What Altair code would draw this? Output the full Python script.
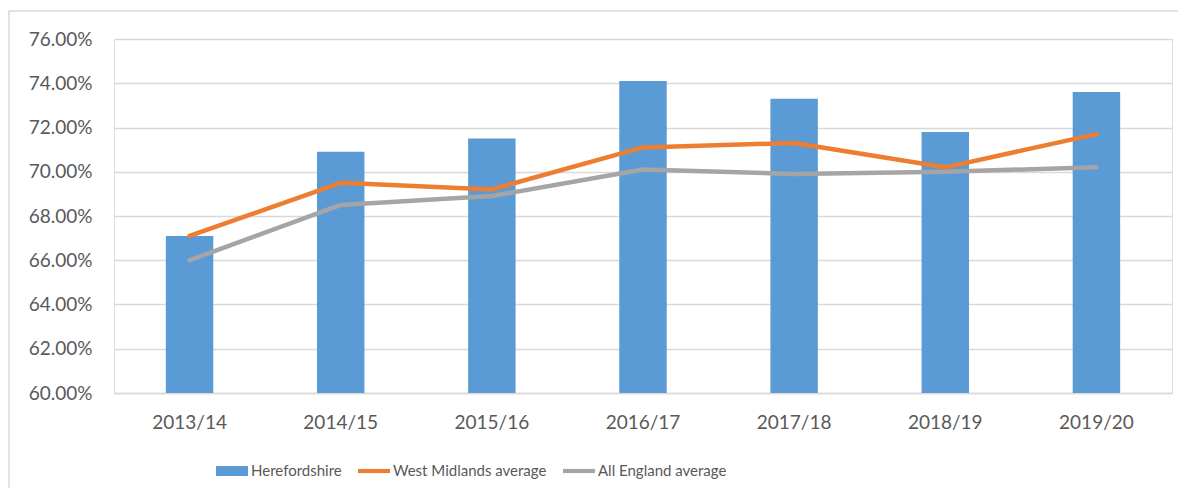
import altair as alt
import pandas as pd

years = ["2013/14", "2014/15", "2015/16", "2016/17", "2017/18", "2018/19", "2019/20"]
herefordshire = [0.671, 0.709, 0.715, 0.741, 0.733, 0.718, 0.736]
west_midlands = [0.671, 0.695, 0.692, 0.711, 0.713, 0.702, 0.717]
all_england = [0.660, 0.685, 0.689, 0.701, 0.699, 0.700, 0.702]
series_names = ["Herefordshire", "West Midlands average", "All England average"]
series_colors = ["#5B9BD5", "#ED7D31", "#A5A5A5"]
y_ticks = [0.60, 0.62, 0.64, 0.66, 0.68, 0.70, 0.72, 0.74, 0.76]

FONT = "Lato"
TXT = "#595959"

df = pd.DataFrame({
    "year": years,
    "Herefordshire": herefordshire,
    "West Midlands average": west_midlands,
    "All England average": all_england,
})
long = df.melt(id_vars="year", var_name="series", value_name="value")

x_enc = alt.X(
    "year:N", sort=years, title=None,
    scale=alt.Scale(paddingInner=0.686, paddingOuter=0.343),
    axis=alt.Axis(labelAngle=0, ticks=False, tickSize=0, labelPadding=20,
                  domainColor="#D9D9D9", domainWidth=1.5, grid=False,
                  labelFont=FONT, labelFontSize=19, labelColor=TXT),
)
y_scale = alt.Scale(domain=[0.60, 0.76], nice=False, zero=False)
y_axis = alt.Axis(values=y_ticks, format=".2%", title=None, domain=False, ticks=False,
                  tickSize=0, labelPadding=22, gridColor="#D9D9D9", gridWidth=1.5,
                  labelFont=FONT, labelFontSize=19, labelColor=TXT)

base = alt.Chart(df)

bars = base.mark_bar(color=series_colors[0], clip=True).encode(
    x=x_enc,
    y=alt.Y("Herefordshire:Q", scale=y_scale, axis=y_axis),
    y2=alt.datum(0.60),
)

wm = base.mark_line(color=series_colors[1], strokeWidth=4.5, strokeCap="round",
                    strokeJoin="round").encode(
    x=alt.X("year:N", sort=years),
    y=alt.Y("West Midlands average:Q"),
)
ae = base.mark_line(color=series_colors[2], strokeWidth=4.5, strokeCap="round",
                    strokeJoin="round").encode(
    x=alt.X("year:N", sort=years),
    y=alt.Y("All England average:Q"),
)

rect_path = "M-1,-0.3125H1V0.3125H-1Z"
line_path = "M-1,-0.13H1V0.13H-1Z"

legend_props = dict(
    title=None, orient="none", direction="horizontal",
    legendX=102, legendY=416, symbolSize=1024, symbolOpacity=1,
    symbolStrokeWidth=0, labelFont=FONT, labelFontSize=15,
    labelColor=TXT, labelOffset=3, columnPadding=16, labelLimit=0,
)

legend_layer = alt.Chart(long).mark_point(filled=True, opacity=0).encode(
    x=alt.X("year:N", sort=years),
    y=alt.Y("value:Q"),
    color=alt.Color(
        "series:N",
        scale=alt.Scale(domain=series_names, range=series_colors),
        legend=alt.Legend(**legend_props),
    ),
    shape=alt.Shape(
        "series:N",
        scale=alt.Scale(domain=series_names, range=[rect_path, line_path, line_path]),
        legend=alt.Legend(**legend_props),
    ),
)

border = alt.Chart(pd.DataFrame({"k": [0]})).mark_rect(
    fill=None, stroke="#D9D9D9", strokeWidth=1.5, clip=False
).encode(
    x=alt.value(-105), x2=alt.value(1080), y=alt.value(-28), y2=alt.value(480),
)

chart = alt.layer(border, bars, wm, ae, legend_layer).properties(
    width=1058, height=354,
    autosize=alt.AutoSizeParams(type="none"),
    padding={"left": 106, "top": 31, "right": 6, "bottom": 95},
).configure_view(stroke=None).configure(background="white")

chart.save("out.html", embed_options={"renderer": "svg", "actions": False})
